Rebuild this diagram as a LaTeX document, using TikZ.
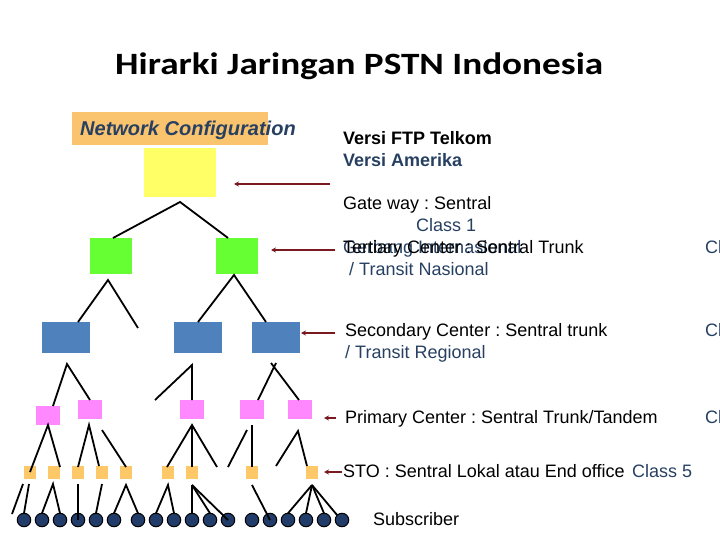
\documentclass[tikz,border=0pt]{standalone}
\usepackage{fontspec}
\setmainfont{Liberation Sans}
\newfontfamily\titlefont{Carlito}
\usetikzlibrary{arrows.meta}
\frenchspacing
\definecolor{yel}{RGB}{255,255,102}
\definecolor{grn}{RGB}{102,255,51}
\definecolor{blu}{RGB}{79,129,189}
\definecolor{pnk}{RGB}{255,136,255}
\definecolor{sto}{RGB}{252,200,104}
\definecolor{hdr}{RGB}{250,195,110}
\definecolor{subc}{RGB}{33,60,105}
\definecolor{txtblue}{RGB}{39,64,98}
\definecolor{maroon}{RGB}{122,26,32}
\tikzset{
  boxnode/.style={draw=none, inner sep=0pt, outer sep=0pt},
  yelbox/.style={boxnode, fill=yel, minimum width=72pt, minimum height=49pt},
  grnbox/.style={boxnode, fill=grn, minimum width=42pt, minimum height=36pt},
  blubox/.style={boxnode, fill=blu, minimum width=48pt, minimum height=31pt},
  pnkbox/.style={boxnode, fill=pnk, minimum width=24pt, minimum height=19pt},
  stobox/.style={boxnode, fill=sto, minimum width=12pt, minimum height=13pt},
  sub/.style={circle, draw=black, line width=1pt, fill=subc, minimum size=13.5pt, inner sep=0pt, outer sep=0pt},
  link/.style={line width=1.8pt, black},
  pointer/.style={line width=1.5pt, maroon, -{Stealth[length=5pt,width=5pt]}},
  lbl/.style={anchor=base west, inner sep=0pt, font=\fontsize{18}{21}\selectfont},
  blbl/.style={anchor=base west, inner sep=0pt, font=\fontsize{18}{21}\selectfont\bfseries},
}
\begin{document}
\begin{tikzpicture}[x=1pt,y=-1pt]
\useasboundingbox (0,0) rectangle (720,540);
% title
\node[anchor=base west, inner sep=0pt] (title) at (115,75)
  {\scalebox{1.2}[1]{\titlefont\bfseries\fontsize{31}{36}\selectfont Hirarki Jaringan PSTN Indonesia}};
% network configuration header
\fill[hdr] (72,112) rectangle (268,145);
\node[anchor=base west, inner sep=0pt, text=txtblue,
  font=\fontsize{20}{24}\selectfont\bfseries\itshape] (netcfg) at (80,136) {Network Configuration};
% boxes
\node[yelbox] (gw) at (180,172.5) {};
\node[grnbox] (t1) at (111,256) {};
\node[grnbox] (t2) at (237,256) {};
\node[blubox] (s1) at (66,337.5) {};
\node[blubox] (s2) at (198,337.5) {};
\node[blubox] (s3) at (276,337.5) {};
\node[pnkbox] (p1) at (48,415.5) {};
\node[pnkbox] (p2) at (90,409.5) {};
\node[pnkbox] (p3) at (192,409.5) {};
\node[pnkbox] (p4) at (252,409.5) {};
\node[pnkbox] (p5) at (300,409.5) {};
\foreach \i/\x in {1/30,2/54,3/78,4/102,5/126,6/168,7/192,8/252,9/312}
  \node[stobox] (l\i) at (\x,472.5) {};
\foreach \i/\x in {1/24,2/42,3/60,4/78,5/96,6/114,7/138,8/156,9/174,10/192,11/210,12/228,13/252,14/270,15/288,16/306,17/324,18/342}
  \node[sub] (u\i) at (\x,520) {};
% coordinates for connector ends
\coordinate (gwa) at (180,202);
\coordinate (t1in) at (113,238);
\coordinate (t2in) at (228,238);
\coordinate (t1a) at (108,280);
\coordinate (s1in) at (78,322);
\coordinate (t1free) at (138,328);
\coordinate (t2a) at (234,275);
\coordinate (s2in) at (198,322);
\coordinate (s3in) at (266,322);
\coordinate (s1a) at (67,364);
\coordinate (p1in) at (53,406);
\coordinate (p2in) at (90,400);
\coordinate (s2a) at (192,365);
\coordinate (s2free) at (155,400);
\coordinate (p3in) at (192,400);
\coordinate (s3a1) at (276,363);
\coordinate (p4in) at (258,400);
\coordinate (s3a2) at (271,363);
\coordinate (p5in) at (299,400);
\coordinate (p1a) at (48,425);
\coordinate (l1in) at (30,472);
\coordinate (l2in) at (60,467);
\coordinate (p2a) at (89,425);
\coordinate (l3in) at (78,467);
\coordinate (l4in) at (99,466);
\coordinate (p2f) at (102,430);
\coordinate (l5in) at (126,467);
\coordinate (p3a) at (192,425);
\coordinate (l6in) at (167,467);
\coordinate (l7in) at (192,467);
\coordinate (p3free) at (217,467);
\coordinate (p4f) at (247,430);
\coordinate (p4free) at (228,467);
\coordinate (p4a) at (252,425);
\coordinate (l8in) at (252,467);
\coordinate (p5a) at (298,431);
\coordinate (p5free) at (276,466);
\coordinate (l9in) at (307,466);
\coordinate (l1f) at (23,484);
\coordinate (l1free) at (12,514);
\coordinate (l1a) at (29,484);
\coordinate (l2a) at (53,484);
\coordinate (l3a) at (78,484);
\coordinate (l4a) at (102,484);
\coordinate (l5a) at (126,485);
\coordinate (l6a) at (168,485);
\coordinate (l7a) at (192,485);
\coordinate (l8a) at (252,485);
\coordinate (l9a) at (312,485);
% tree links
\draw[link] (t1in) -- (gwa) -- (t2in);
\draw[link] (s1in) -- (t1a) -- (t1free);
\draw[link] (s2in) -- (t2a) -- (s3in);
\draw[link] (p1in) -- (s1a) -- (p2in);
\draw[link] (s2free) -- (s2a) -- (p3in);
\draw[link] (s3a1) -- (p4in);
\draw[link] (s3a2) -- (p5in);
\draw[link] (l1in) -- (p1a) -- (l2in);
\draw[link] (l3in) -- (p2a) -- (l4in);
\draw[link] (p2f) -- (l5in);
\draw[link] (l6in) -- (p3a) -- (p3free);
\draw[link] (p3a) -- (l7in);
\draw[link] (p4f) -- (p4free);
\draw[link] (p4a) -- (l8in);
\draw[link] (p5free) -- (p5a) -- (l9in);
\draw[link] (l1f) -- (l1free);
\draw[link] (l1a) -- (u1.north);
\draw[link] (u2.north) -- (l2a) -- (u3.north);
\draw[link] (l3a) -- (u4.center);
\draw[link] (l4a) -- (u5.north);
\draw[link] (u6.north) -- (l5a) -- (u7.north);
\draw[link] (u8.north) -- (l6a) -- (u9.north);
\draw[link] (l7a) -- (u10.north);
\draw[link] (l7a) -- (u11.north);
\draw[link] (l7a) -- (u12.center);
\draw[link] (l8a) -- (u14.center);
\draw[link] (l9a) -- (u15.north);
\draw[link] (l9a) -- (u16.north);
\draw[link] (l9a) -- (u17.north);
\draw[link] (l9a) -- (u18.north west);
% pointers
\coordinate (a1s) at (330,184); \coordinate (a1e) at (234,184);
\coordinate (a2s) at (335,250); \coordinate (a2e) at (271,250);
\coordinate (a3s) at (335,333); \coordinate (a3e) at (301,333);
\coordinate (a4s) at (336,418); \coordinate (a4e) at (324,418);
\coordinate (a5s) at (342,472); \coordinate (a5e) at (324,472);
\draw[pointer] (a1s) -- (a1e);
\draw[pointer] (a2s) -- (a2e);
\draw[pointer] (a3s) -- (a3e);
\draw[pointer] (a4s) -- (a4e);
\draw[pointer] (a5s) -- (a5e);
% texts
\node[blbl] (vftp) at (343,145) {Versi FTP Telkom};
\node[blbl, text=txtblue] (vam) at (343,167) {Versi Amerika};
\node[lbl] (gate) at (343,210) {Gate way : Sentral};
\node[lbl, text=txtblue] (c1) at (416,232) {Class 1};
\node[lbl, text=txtblue] (gint) at (343,253) {Gerbang Internasional};
\node[lbl] (tert) at (343,253) {Tertiary Center : Sentral Trunk};
\node[lbl, text=txtblue] (tnas) at (349,275) {/ Transit Nasional};
\node[lbl, text=txtblue] (c2) at (705,253) {Cl};
\node[lbl] (sec) at (345,336) {Secondary Center : Sentral trunk};
\node[lbl, text=txtblue] (treg) at (345,358) {/ Transit Regional};
\node[lbl, text=txtblue] (c3) at (705,336) {Cl};
\node[lbl] (prim) at (345,423) {Primary Center : Sentral Trunk/Tandem};
\node[lbl, text=txtblue] (c4) at (705,423) {Cl};
\node[lbl] (stot) at (343,477) {STO : Sentral Lokal atau End office};
\node[lbl, text=txtblue] (c5) at (632,477) {Class 5};
\node[lbl] (subs) at (373,525) {Subscriber};
\end{tikzpicture}
\end{document}
